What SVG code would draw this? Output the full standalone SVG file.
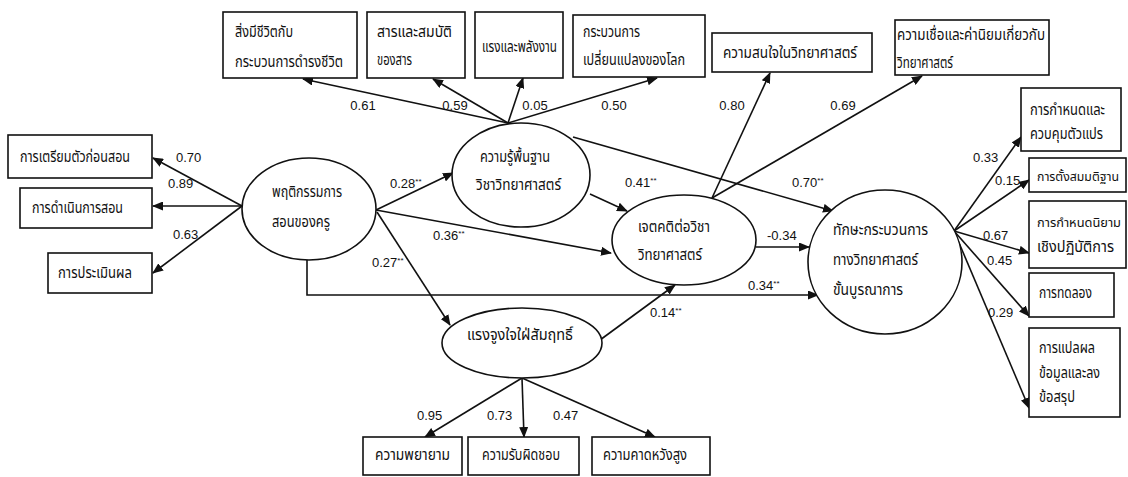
<svg xmlns="http://www.w3.org/2000/svg" width="1128" height="477" viewBox="0 0 1128 477">
<style>
.bx{fill:#fff;stroke:#111;stroke-width:1.6}
.el{fill:#fff;stroke:#111;stroke-width:1.6}
.ln{fill:none;stroke:#111;stroke-width:1.6;marker-end:url(#ah)}
.th{font-family:"Noto Sans Thai","Noto Sans","DejaVu Sans",sans-serif;font-size:15px;fill:#111}
.sm{font-size:13px}
.nm{font-family:"Liberation Sans",Arial,sans-serif;font-size:13px;fill:#111}
.st{font-size:8px}
</style>
<defs>
<marker id="ah" markerWidth="11" markerHeight="9" refX="10" refY="4.5" orient="auto" markerUnits="userSpaceOnUse">
<path d="M0,0 L11,4.5 L0,9 Z" fill="#111"/>
</marker>
</defs>
<rect width="1128" height="477" fill="#fff"/>
<g id="connectors">
<line class="ln" x1="242" y1="206" x2="153" y2="158"/>
<line class="ln" x1="242" y1="206" x2="153" y2="206"/>
<line class="ln" x1="242" y1="206" x2="153" y2="273"/>
<line class="ln" x1="376" y1="210" x2="453" y2="173"/>
<line class="ln" x1="376" y1="210" x2="611" y2="253"/>
<line class="ln" x1="377" y1="212" x2="450" y2="325"/>
<polyline class="ln" points="307,260 307,295 818,295"/>
<line class="ln" x1="508" y1="123" x2="303" y2="79"/>
<line class="ln" x1="508" y1="123" x2="433" y2="79"/>
<line class="ln" x1="508" y1="123" x2="523" y2="78"/>
<line class="ln" x1="508" y1="123" x2="657" y2="78"/>
<line class="ln" x1="590" y1="194" x2="627" y2="211"/>
<line class="ln" x1="573" y1="137" x2="833" y2="211"/>
<line class="ln" x1="712" y1="198" x2="770" y2="73"/>
<line class="ln" x1="712" y1="198" x2="922" y2="76"/>
<line class="ln" x1="756" y1="247" x2="809" y2="247"/>
<line class="ln" x1="600" y1="340" x2="675" y2="285"/>
<line class="ln" x1="522" y1="378" x2="425" y2="437"/>
<line class="ln" x1="522" y1="378" x2="524" y2="437"/>
<line class="ln" x1="522" y1="378" x2="655" y2="437"/>
<line class="ln" x1="954" y1="231" x2="1021" y2="137"/>
<line class="ln" x1="954" y1="231" x2="1029" y2="180"/>
<line class="ln" x1="954" y1="231" x2="1029" y2="253"/>
<line class="ln" x1="954" y1="231" x2="1029" y2="316"/>
<line class="ln" x1="954" y1="231" x2="1029" y2="408"/>
</g>
<g id="labels">
<text class="nm" x="363" y="110" text-anchor="middle">0.61</text>
<text class="nm" x="455" y="110" text-anchor="middle">0.59</text>
<text class="nm" x="535" y="110" text-anchor="middle">0.05</text>
<text class="nm" x="614" y="110" text-anchor="middle">0.50</text>
<text class="nm" x="732" y="110" text-anchor="middle">0.80</text>
<text class="nm" x="843" y="110" text-anchor="middle">0.69</text>
<text class="nm" x="176" y="162">0.70</text>
<text class="nm" x="168" y="188">0.89</text>
<text class="nm" x="173" y="239">0.63</text>
<text class="nm" x="390" y="188">0.28<tspan class="st" dy="-4">**</tspan></text>
<text class="nm" x="433" y="240">0.36<tspan class="st" dy="-4">**</tspan></text>
<text class="nm" x="372" y="267">0.27<tspan class="st" dy="-4">**</tspan></text>
<text class="nm" x="625" y="187">0.41<tspan class="st" dy="-4">**</tspan></text>
<text class="nm" x="792" y="187">0.70<tspan class="st" dy="-4">**</tspan></text>
<text class="nm" x="767" y="240">-0.34</text>
<text class="nm" x="748" y="290">0.34<tspan class="st" dy="-4">**</tspan></text>
<text class="nm" x="650" y="317">0.14<tspan class="st" dy="-4">**</tspan></text>
<text class="nm" x="973" y="162">0.33</text>
<text class="nm" x="995" y="185">0.15</text>
<text class="nm" x="983" y="240">0.67</text>
<text class="nm" x="987" y="265">0.45</text>
<text class="nm" x="988" y="317">0.29</text>
<text class="nm" x="417" y="420">0.95</text>
<text class="nm" x="487" y="420">0.73</text>
<text class="nm" x="553" y="420">0.47</text>
</g>
<g id="teacher">
<ellipse class="el" cx="309" cy="209" rx="67" ry="51"/>
<text class="th" x="272" y="197" textLength="70" lengthAdjust="spacingAndGlyphs">พฤติกรรมการ</text>
<text class="th" x="272" y="227" textLength="58" lengthAdjust="spacingAndGlyphs">สอนของครู</text>
</g>
<g id="knowledge">
<ellipse class="el" cx="521" cy="175" rx="69" ry="52"/>
<text class="th" x="480" y="162" textLength="70" lengthAdjust="spacingAndGlyphs">ความรู้พื้นฐาน</text>
<text class="th" x="476" y="190" textLength="85" lengthAdjust="spacingAndGlyphs">วิชาวิทยาศาสตร์</text>
</g>
<g id="attitude">
<ellipse class="el" cx="684" cy="240" rx="72" ry="45"/>
<text class="th" x="638" y="232" textLength="72" lengthAdjust="spacingAndGlyphs">เจตคติต่อวิชา</text>
<text class="th" x="638" y="260" textLength="64" lengthAdjust="spacingAndGlyphs">วิทยาศาสตร์</text>
</g>
<g id="skills">
<ellipse class="el" cx="885" cy="262" rx="77" ry="72"/>
<text class="th" x="833" y="235" textLength="95" lengthAdjust="spacingAndGlyphs">ทักษะกระบวนการ</text>
<text class="th" x="833" y="265" textLength="85" lengthAdjust="spacingAndGlyphs">ทางวิทยาศาสตร์</text>
<text class="th" x="833" y="295" textLength="70" lengthAdjust="spacingAndGlyphs">ขั้นบูรณาการ</text>
</g>
<g id="motivation">
<ellipse class="el" cx="522" cy="343" rx="80" ry="35"/>
<text class="th" x="467" y="340" textLength="106" lengthAdjust="spacingAndGlyphs">แรงจูงใจใฝ่สัมฤทธิ์</text>
</g>
<g id="box-living">
<rect class="bx" x="223" y="12" width="134" height="66"/>
<text class="th" x="235" y="37" textLength="58" lengthAdjust="spacingAndGlyphs">สิ่งมีชีวิตกับ</text>
<text class="th" x="235" y="67" textLength="108" lengthAdjust="spacingAndGlyphs">กระบวนการดำรงชีวิต</text>
</g>
<g id="box-matter">
<rect class="bx" x="367" y="12" width="98" height="66"/>
<text class="th" x="377" y="37" textLength="75" lengthAdjust="spacingAndGlyphs">สารและสมบัติ</text>
<text class="th" x="377" y="65" textLength="35" lengthAdjust="spacingAndGlyphs">ของสาร</text>
</g>
<g id="box-force">
<rect class="bx" x="475" y="12" width="88" height="66"/>
<text class="th" x="482" y="52" textLength="75" lengthAdjust="spacingAndGlyphs">แรงและพลังงาน</text>
</g>
<g id="box-earth">
<rect class="bx" x="573" y="15" width="132" height="62"/>
<text class="th" x="583" y="37" textLength="57" lengthAdjust="spacingAndGlyphs">กระบวนการ</text>
<text class="th" x="583" y="65" textLength="102" lengthAdjust="spacingAndGlyphs">เปลี่ยนแปลงของโลก</text>
</g>
<g id="box-interest">
<rect class="bx" x="712" y="33" width="160" height="39"/>
<text class="th" x="723" y="58" textLength="134" lengthAdjust="spacingAndGlyphs">ความสนใจในวิทยาศาสตร์</text>
</g>
<g id="box-belief">
<rect class="bx" x="895" y="20" width="154" height="55"/>
<text class="th" x="897" y="40" textLength="148" lengthAdjust="spacingAndGlyphs">ความเชื่อและค่านิยมเกี่ยวกับ</text>
<text class="th" x="897" y="68" textLength="56" lengthAdjust="spacingAndGlyphs">วิทยาศาสตร์</text>
</g>
<g id="box-prep">
<rect class="bx" x="8" y="135" width="144" height="43"/>
<text class="th" x="20" y="162" textLength="110" lengthAdjust="spacingAndGlyphs">การเตรียมตัวก่อนสอน</text>
</g>
<g id="box-teach">
<rect class="bx" x="20" y="188" width="132" height="40"/>
<text class="th" x="32" y="213" textLength="91" lengthAdjust="spacingAndGlyphs">การดำเนินการสอน</text>
</g>
<g id="box-eval">
<rect class="bx" x="48" y="253" width="104" height="40"/>
<text class="th" x="58" y="278" textLength="74" lengthAdjust="spacingAndGlyphs">การประเมินผล</text>
</g>
<g id="box-variables">
<rect class="bx" x="1021" y="88" width="100" height="63"/>
<text class="th" x="1030" y="115" textLength="75" lengthAdjust="spacingAndGlyphs">การกำหนดและ</text>
<text class="th" x="1030" y="139" textLength="73" lengthAdjust="spacingAndGlyphs">ควบคุมตัวแปร</text>
</g>
<g id="box-hypothesis">
<rect class="bx" x="1029" y="158" width="97" height="34"/>
<text class="th sm" x="1037" y="181" textLength="82" lengthAdjust="spacingAndGlyphs">การตั้งสมมติฐาน</text>
</g>
<g id="box-operational">
<rect class="bx" x="1029" y="201" width="97" height="67"/>
<text class="th sm" x="1037" y="227" textLength="84" lengthAdjust="spacingAndGlyphs">การกำหนดนิยาม</text>
<text class="th" x="1037" y="252" textLength="77" lengthAdjust="spacingAndGlyphs">เชิงปฏิบัติการ</text>
</g>
<g id="box-experiment">
<rect class="bx" x="1029" y="273" width="85" height="44"/>
<text class="th" x="1039" y="298" textLength="53" lengthAdjust="spacingAndGlyphs">การทดลอง</text>
</g>
<g id="box-interpret">
<rect class="bx" x="1029" y="328" width="91" height="89"/>
<text class="th" x="1039" y="353" textLength="56" lengthAdjust="spacingAndGlyphs">การแปลผล</text>
<text class="th" x="1039" y="378" textLength="61" lengthAdjust="spacingAndGlyphs">ข้อมูลและลง</text>
<text class="th" x="1039" y="402" textLength="36" lengthAdjust="spacingAndGlyphs">ข้อสรุป</text>
</g>
<g id="box-effort">
<rect class="bx" x="363" y="437" width="99" height="38"/>
<text class="th" x="375" y="460" textLength="75" lengthAdjust="spacingAndGlyphs">ความพยายาม</text>
</g>
<g id="box-responsibility">
<rect class="bx" x="468" y="437" width="111" height="38"/>
<text class="th" x="482" y="460" textLength="78" lengthAdjust="spacingAndGlyphs">ความรับผิดชอบ</text>
</g>
<g id="box-expectation">
<rect class="bx" x="592" y="437" width="118" height="38"/>
<text class="th" x="603" y="460" textLength="84" lengthAdjust="spacingAndGlyphs">ความคาดหวังสูง</text>
</g>
</svg>
